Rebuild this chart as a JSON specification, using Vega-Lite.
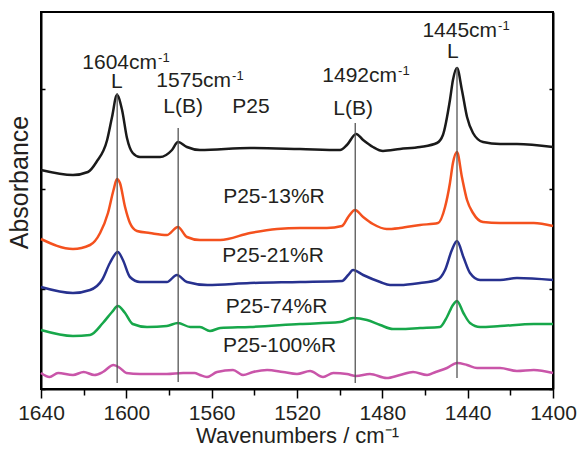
{
  "$schema": "https://vega.github.io/schema/vega-lite/v6.json",
  "width": 512,
  "height": 377,
  "autosize": {"type": "none"},
  "padding": {"left": 41, "top": 12, "right": 27, "bottom": 62},
  "background": "white",
  "config": {
    "view": {"stroke": "#000", "strokeWidth": 2},
    "axis": {"domainColor": "#000", "domainWidth": 2, "tickColor": "#000", "tickWidth": 1.5, "labelFont": "Liberation Sans", "titleFont": "Liberation Sans", "labelColor": "#231f20", "titleColor": "#231f20", "titleFontWeight": "normal", "grid": false}
  },
  "datasets": {
    "spec": [
      {"wn":1640,"a":2.19,"s":"P25"},{"wn":1625,"a":2.14,"s":"P25"},{"wn":1618,"a":2.17,"s":"P25"},{"wn":1614,"a":2.27,"s":"P25"},{"wn":1609,"a":2.49,"s":"P25"},{"wn":1606.7,"a":2.72,"s":"P25"},{"wn":1604.4,"a":2.94,"s":"P25"},{"wn":1602,"a":2.79,"s":"P25"},{"wn":1599.7,"a":2.51,"s":"P25"},{"wn":1597,"a":2.36,"s":"P25"},{"wn":1593.6,"a":2.32,"s":"P25"},{"wn":1584.2,"a":2.32,"s":"P25"},{"wn":1578.6,"a":2.39,"s":"P25"},{"wn":1575.8,"a":2.47,"s":"P25"},{"wn":1571.6,"a":2.42,"s":"P25"},{"wn":1565.5,"a":2.39,"s":"P25"},{"wn":1542,"a":2.41,"s":"P25"},{"wn":1518.6,"a":2.4,"s":"P25"},{"wn":1499.8,"a":2.39,"s":"P25"},{"wn":1496.6,"a":2.44,"s":"P25"},{"wn":1492.3,"a":2.55,"s":"P25"},{"wn":1489,"a":2.49,"s":"P25"},{"wn":1484.4,"a":2.42,"s":"P25"},{"wn":1479.7,"a":2.38,"s":"P25"},{"wn":1471.7,"a":2.4,"s":"P25"},{"wn":1462.3,"a":2.42,"s":"P25"},{"wn":1454.4,"a":2.46,"s":"P25"},{"wn":1451.6,"a":2.54,"s":"P25"},{"wn":1448.3,"a":2.89,"s":"P25"},{"wn":1446.9,"a":3.09,"s":"P25"},{"wn":1445,"a":3.21,"s":"P25"},{"wn":1442.7,"a":2.99,"s":"P25"},{"wn":1440.3,"a":2.72,"s":"P25"},{"wn":1437.5,"a":2.56,"s":"P25"},{"wn":1432.8,"a":2.47,"s":"P25"},{"wn":1424.8,"a":2.45,"s":"P25"},{"wn":1416.9,"a":2.45,"s":"P25"},{"wn":1400,"a":2.42,"s":"P25"},

      {"wn":1640,"a":1.5,"s":"P25-13%R"},{"wn":1625,"a":1.4,"s":"P25-13%R"},{"wn":1617,"a":1.44,"s":"P25-13%R"},{"wn":1612.3,"a":1.56,"s":"P25-13%R"},{"wn":1608.6,"a":1.76,"s":"P25-13%R"},{"wn":1606,"a":1.99,"s":"P25-13%R"},{"wn":1604.4,"a":2.1,"s":"P25-13%R"},{"wn":1603,"a":2.06,"s":"P25-13%R"},{"wn":1600.6,"a":1.82,"s":"P25-13%R"},{"wn":1598.3,"a":1.66,"s":"P25-13%R"},{"wn":1595,"a":1.58,"s":"P25-13%R"},{"wn":1589,"a":1.56,"s":"P25-13%R"},{"wn":1581,"a":1.54,"s":"P25-13%R"},{"wn":1575.8,"a":1.62,"s":"P25-13%R"},{"wn":1571.6,"a":1.52,"s":"P25-13%R"},{"wn":1565.5,"a":1.49,"s":"P25-13%R"},{"wn":1556,"a":1.49,"s":"P25-13%R"},{"wn":1542,"a":1.56,"s":"P25-13%R"},{"wn":1529.4,"a":1.6,"s":"P25-13%R"},{"wn":1518.6,"a":1.61,"s":"P25-13%R"},{"wn":1506,"a":1.61,"s":"P25-13%R"},{"wn":1498.9,"a":1.63,"s":"P25-13%R"},{"wn":1496,"a":1.72,"s":"P25-13%R"},{"wn":1492.8,"a":1.79,"s":"P25-13%R"},{"wn":1489,"a":1.72,"s":"P25-13%R"},{"wn":1484.4,"a":1.65,"s":"P25-13%R"},{"wn":1478,"a":1.6,"s":"P25-13%R"},{"wn":1471.7,"a":1.61,"s":"P25-13%R"},{"wn":1462.3,"a":1.64,"s":"P25-13%R"},{"wn":1453.9,"a":1.66,"s":"P25-13%R"},{"wn":1450.6,"a":1.82,"s":"P25-13%R"},{"wn":1448.3,"a":2.06,"s":"P25-13%R"},{"wn":1446.9,"a":2.26,"s":"P25-13%R"},{"wn":1445,"a":2.37,"s":"P25-13%R"},{"wn":1442.7,"a":2.12,"s":"P25-13%R"},{"wn":1440.3,"a":1.89,"s":"P25-13%R"},{"wn":1437.5,"a":1.76,"s":"P25-13%R"},{"wn":1432.8,"a":1.67,"s":"P25-13%R"},{"wn":1424.8,"a":1.66,"s":"P25-13%R"},{"wn":1409,"a":1.66,"s":"P25-13%R"},{"wn":1400,"a":1.63,"s":"P25-13%R"},

      {"wn":1640,"a":1.02,"s":"P25-21%R"},{"wn":1625,"a":0.96,"s":"P25-21%R"},{"wn":1617,"a":0.99,"s":"P25-21%R"},{"wn":1611.4,"a":1.09,"s":"P25-21%R"},{"wn":1607.7,"a":1.26,"s":"P25-21%R"},{"wn":1604,"a":1.37,"s":"P25-21%R"},{"wn":1601.6,"a":1.29,"s":"P25-21%R"},{"wn":1598.3,"a":1.12,"s":"P25-21%R"},{"wn":1593.6,"a":1.07,"s":"P25-21%R"},{"wn":1581,"a":1.07,"s":"P25-21%R"},{"wn":1576.3,"a":1.14,"s":"P25-21%R"},{"wn":1571.6,"a":1.07,"s":"P25-21%R"},{"wn":1562,"a":1.04,"s":"P25-21%R"},{"wn":1542,"a":1.06,"s":"P25-21%R"},{"wn":1518.6,"a":1.07,"s":"P25-21%R"},{"wn":1498.9,"a":1.08,"s":"P25-21%R"},{"wn":1496,"a":1.14,"s":"P25-21%R"},{"wn":1493.7,"a":1.19,"s":"P25-21%R"},{"wn":1489,"a":1.14,"s":"P25-21%R"},{"wn":1481,"a":1.07,"s":"P25-21%R"},{"wn":1476.4,"a":1.04,"s":"P25-21%R"},{"wn":1471.7,"a":1.04,"s":"P25-21%R"},{"wn":1462.3,"a":1.06,"s":"P25-21%R"},{"wn":1454.4,"a":1.09,"s":"P25-21%R"},{"wn":1450.6,"a":1.19,"s":"P25-21%R"},{"wn":1447.4,"a":1.39,"s":"P25-21%R"},{"wn":1445,"a":1.48,"s":"P25-21%R"},{"wn":1442,"a":1.32,"s":"P25-21%R"},{"wn":1438.9,"a":1.16,"s":"P25-21%R"},{"wn":1434.2,"a":1.09,"s":"P25-21%R"},{"wn":1424.8,"a":1.09,"s":"P25-21%R"},{"wn":1416.9,"a":1.11,"s":"P25-21%R"},{"wn":1400,"a":1.09,"s":"P25-21%R"},

      {"wn":1640,"a":0.59,"s":"P25-74%R"},{"wn":1625,"a":0.53,"s":"P25-74%R"},{"wn":1617,"a":0.54,"s":"P25-74%R"},{"wn":1611,"a":0.66,"s":"P25-74%R"},{"wn":1606.7,"a":0.77,"s":"P25-74%R"},{"wn":1604,"a":0.83,"s":"P25-74%R"},{"wn":1600.6,"a":0.76,"s":"P25-74%R"},{"wn":1597,"a":0.65,"s":"P25-74%R"},{"wn":1590.3,"a":0.62,"s":"P25-74%R"},{"wn":1581,"a":0.63,"s":"P25-74%R"},{"wn":1575.8,"a":0.66,"s":"P25-74%R"},{"wn":1570,"a":0.62,"s":"P25-74%R"},{"wn":1565.5,"a":0.62,"s":"P25-74%R"},{"wn":1560.8,"a":0.58,"s":"P25-74%R"},{"wn":1556,"a":0.61,"s":"P25-74%R"},{"wn":1542,"a":0.62,"s":"P25-74%R"},{"wn":1518.6,"a":0.65,"s":"P25-74%R"},{"wn":1499.8,"a":0.67,"s":"P25-74%R"},{"wn":1493.7,"a":0.71,"s":"P25-74%R"},{"wn":1487.2,"a":0.69,"s":"P25-74%R"},{"wn":1481,"a":0.64,"s":"P25-74%R"},{"wn":1475,"a":0.6,"s":"P25-74%R"},{"wn":1471.7,"a":0.6,"s":"P25-74%R"},{"wn":1462.3,"a":0.61,"s":"P25-74%R"},{"wn":1453,"a":0.62,"s":"P25-74%R"},{"wn":1449.7,"a":0.72,"s":"P25-74%R"},{"wn":1446.9,"a":0.84,"s":"P25-74%R"},{"wn":1445,"a":0.88,"s":"P25-74%R"},{"wn":1442,"a":0.76,"s":"P25-74%R"},{"wn":1438.9,"a":0.66,"s":"P25-74%R"},{"wn":1434.2,"a":0.62,"s":"P25-74%R"},{"wn":1424.8,"a":0.63,"s":"P25-74%R"},{"wn":1409,"a":0.65,"s":"P25-74%R"},{"wn":1400,"a":0.65,"s":"P25-74%R"},

      {"wn":1640,"a":0.16,"s":"P25-100%R"},{"wn":1636,"a":0.12,"s":"P25-100%R"},{"wn":1632,"a":0.16,"s":"P25-100%R"},{"wn":1625,"a":0.14,"s":"P25-100%R"},{"wn":1620,"a":0.17,"s":"P25-100%R"},{"wn":1615,"a":0.14,"s":"P25-100%R"},{"wn":1611,"a":0.17,"s":"P25-100%R"},{"wn":1606,"a":0.24,"s":"P25-100%R"},{"wn":1603,"a":0.21,"s":"P25-100%R"},{"wn":1600,"a":0.16,"s":"P25-100%R"},{"wn":1593.6,"a":0.15,"s":"P25-100%R"},{"wn":1581,"a":0.15,"s":"P25-100%R"},{"wn":1573.4,"a":0.16,"s":"P25-100%R"},{"wn":1568,"a":0.16,"s":"P25-100%R"},{"wn":1565.5,"a":0.14,"s":"P25-100%R"},{"wn":1562.2,"a":0.12,"s":"P25-100%R"},{"wn":1557.5,"a":0.17,"s":"P25-100%R"},{"wn":1550,"a":0.19,"s":"P25-100%R"},{"wn":1545.3,"a":0.14,"s":"P25-100%R"},{"wn":1540.6,"a":0.17,"s":"P25-100%R"},{"wn":1534,"a":0.19,"s":"P25-100%R"},{"wn":1526.6,"a":0.17,"s":"P25-100%R"},{"wn":1520,"a":0.15,"s":"P25-100%R"},{"wn":1513.9,"a":0.18,"s":"P25-100%R"},{"wn":1507.8,"a":0.12,"s":"P25-100%R"},{"wn":1503,"a":0.16,"s":"P25-100%R"},{"wn":1496.6,"a":0.15,"s":"P25-100%R"},{"wn":1492.3,"a":0.13,"s":"P25-100%R"},{"wn":1485.8,"a":0.15,"s":"P25-100%R"},{"wn":1478,"a":0.11,"s":"P25-100%R"},{"wn":1471.7,"a":0.14,"s":"P25-100%R"},{"wn":1465.6,"a":0.17,"s":"P25-100%R"},{"wn":1459,"a":0.14,"s":"P25-100%R"},{"wn":1455,"a":0.17,"s":"P25-100%R"},{"wn":1449.7,"a":0.21,"s":"P25-100%R"},{"wn":1445,"a":0.26,"s":"P25-100%R"},{"wn":1440.3,"a":0.24,"s":"P25-100%R"},{"wn":1435.6,"a":0.21,"s":"P25-100%R"},{"wn":1424.8,"a":0.21,"s":"P25-100%R"},{"wn":1416.9,"a":0.18,"s":"P25-100%R"},{"wn":1409,"a":0.19,"s":"P25-100%R"},{"wn":1400,"a":0.16,"s":"P25-100%R"}
    ],
    "rules": [
      {"wn":1604.3,"a":0.06,"a2":2.96},
      {"wn":1575.7,"a":0.07,"a2":2.61},
      {"wn":1492.7,"a":0.06,"a2":2.66},
      {"wn":1445,"a":0.11,"a2":3.22}
    ],
    "labels": [
      {"wn":1604.4,"a":3.01,"t":"L"},
      {"wn":1446.9,"a":3.31,"t":"L"},
      {"wn":1573.4,"a":2.76,"t":"L(B)"},
      {"wn":1493.7,"a":2.74,"t":"L(B)"},
      {"wn":1541.6,"a":2.76,"t":"P25"},
      {"wn":1530.8,"a":1.86,"t":"P25-13%R"},
      {"wn":1531.2,"a":1.27,"t":"P25-21%R"},
      {"wn":1529.6,"a":0.76,"t":"P25-74%R"},
      {"wn":1528.2,"a":0.37,"t":"P25-100%R"}
    ],
    "peaks": [
      {"wn":1600.6,"a":3.2,"t":"1604cm"},
      {"wn":1565.9,"a":3.02,"t":"1575cm"},
      {"wn":1488.1,"a":3.07,"t":"1492cm"},
      {"wn":1441.2,"a":3.52,"t":"1445cm"}
    ]
  },
  "encoding": {
    "x": {
      "field": "wn", "type": "quantitative",
      "scale": {"domain": [1400, 1640], "reverse": true, "nice": false, "zero": false},
      "axis": {
        "values": [1400,1420,1440,1460,1480,1500,1520,1540,1560,1580,1600,1620,1640],
        "labelExpr": "datum.value % 40 === 0 ? datum.label : ''",
        "format": "d",
        "tickSize": {"condition": {"test": "datum.value % 40 === 0", "value": 9}, "value": 6},
        "labelFontSize": 21, "labelPadding": 4, "labelFlush": false, "labelOverlap": false,
        "title": "Wavenumbers / cm⁻¹", "titleFontSize": 22, "titlePadding": 2
      }
    }
  },
  "layer": [
    {
      "data": {"name": "spec"},
      "mark": {"type": "line", "strokeWidth": 2.5, "interpolate": "monotone"},
      "encoding": {
        "y": {
          "field": "a", "type": "quantitative",
          "scale": {"domain": [0, 3.77], "nice": false, "zero": false},
          "axis": {"values": [0,1,2,3], "labels": false, "tickSize": -4, "title": "Absorbance", "titleFontSize": 25, "titlePadding": 8, "titleY": 170}
        },
        "color": {
          "field": "s", "type": "nominal",
          "scale": {"domain": ["P25","P25-13%R","P25-21%R","P25-74%R","P25-100%R"], "range": ["#1a1a1a","#f4511e","#27318f","#17a74a","#c955a9"]},
          "legend": null
        }
      }
    },
    {
      "data": {"name": "rules"},
      "mark": {"type": "rule", "color": "#555555", "strokeWidth": 1.3},
      "encoding": {
        "y": {"field": "a", "type": "quantitative", "axis": null},
        "y2": {"field": "a2"}
      }
    },
    {
      "data": {"name": "labels"},
      "mark": {"type": "text", "font": "Liberation Sans", "fontSize": 21, "color": "#231f20", "align": "center", "baseline": "alphabetic"},
      "encoding": {
        "y": {"field": "a", "type": "quantitative", "axis": null},
        "text": {"field": "t"}
      }
    },
    {
      "data": {"name": "peaks"},
      "mark": {"type": "text", "font": "Liberation Sans", "fontSize": 21, "color": "#231f20", "align": "right", "baseline": "alphabetic", "dx": 32},
      "encoding": {
        "y": {"field": "a", "type": "quantitative", "axis": null},
        "text": {"field": "t"}
      }
    },
    {
      "data": {"name": "peaks"},
      "mark": {"type": "text", "font": "Liberation Sans", "fontSize": 13, "color": "#231f20", "align": "left", "baseline": "alphabetic", "dx": 33, "dy": -7},
      "encoding": {
        "y": {
          "field": "a", "type": "quantitative",
          "axis": {"orient": "right", "values": [0,1,2,3], "labels": false, "tickSize": -4, "title": null}
        },
        "text": {"value": "-1"}
      }
    }
  ],
  "resolve": {"axis": {"y": "independent"}}
}
